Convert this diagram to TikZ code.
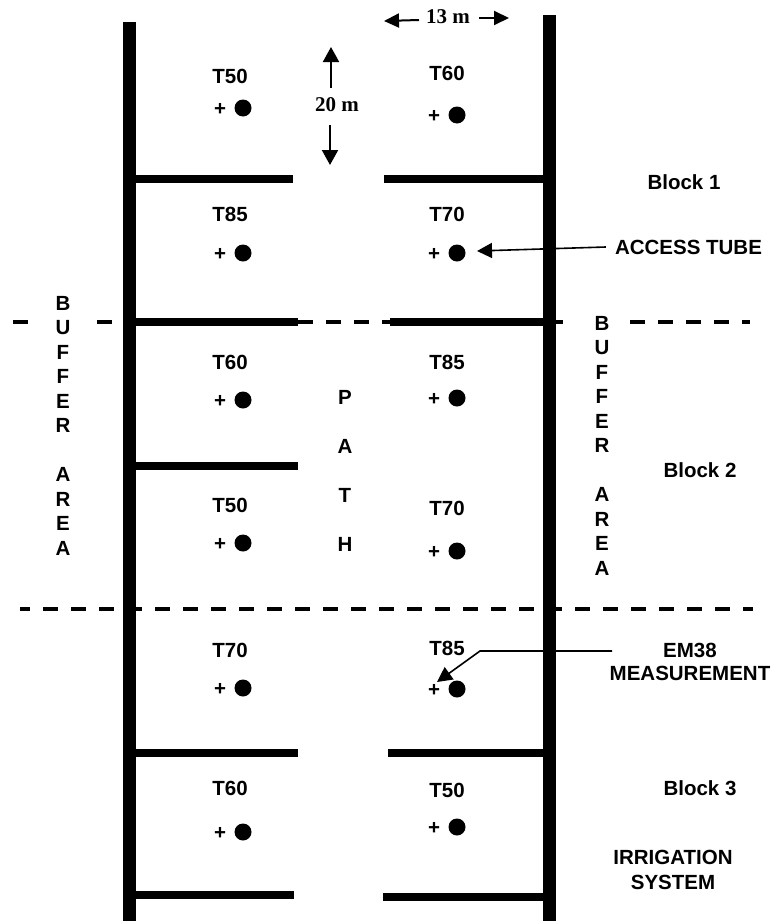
\documentclass[tikz,border=0pt]{standalone}
\usepackage{fontspec}
\setmainfont{Liberation Sans}
\newfontfamily\serifbold{Liberation Serif}
\usetikzlibrary{arrows.meta}
\begin{document}
\begin{tikzpicture}[x=1pt,y=-1pt,
  wall/.style={line width=12.5pt},
  rail/.style={line width=8pt},
  dashline/.style={line width=3.5pt, dash pattern=on 15pt off 13pt},
  lab/.style={font=\bfseries\fontsize{20.5}{23}\selectfont, inner sep=0pt},
  dot/.style={circle, fill=black, minimum size=17pt, inner sep=0pt},
  dim/.style={font=\serifbold\bfseries\fontsize{21}{24}\selectfont, inner sep=0pt},
  dimarrow/.style={line width=2pt, -{Triangle[length=15pt,width=16pt]}},
  callout/.style={line width=1.6pt, -{Triangle[length=15pt,width=15pt]}}
]
\useasboundingbox (0,0) rectangle (779,921);

% dashed block boundaries
\draw[dashline] (13,322) -- (31,322);
\draw[dashline] (97,322) -- (113,322);
\draw[dashline] (298,322) -- (390,322);
\draw[dashline] (549,322) -- (563,322);
\draw[dashline] (630,322) -- (750,322);
\draw[dashline, dash phase=5pt] (20,609) -- (753,609);

% walls
\draw[wall] (129.5,22) -- (129.5,921);
\draw[wall] (549.5,15) -- (549.5,921);

% rails
\draw[rail] (135,179) -- (293,179);
\draw[rail] (384,179) -- (543,179);
\draw[rail] (135,322) -- (298,322);
\draw[rail] (390,322) -- (543,322);
\draw[rail] (135,466) -- (298,466);
\draw[rail] (135,753) -- (298,753);
\draw[rail] (388,753) -- (543,753);
\draw[rail] (135,895) -- (294,895);
\draw[rail] (383,897) -- (543,897);

% plots: left column
\foreach \t/\ly/\dy [count=\i] in {T50/76/108, T85/214/253, T60/362/400, T50/505/543, T70/650/688, T60/788/832}{
  \node[lab] (tl\i) at (230,\ly) {\t};
  \node[lab] (pl\i) at (220,\dy+1) {+};
  \node[dot] (dl\i) at (243,\dy) {};
}
% plots: right column
\foreach \t/\ly/\dy [count=\i] in {T60/73/115, T70/214/253, T85/362/398, T70/508/551, T85/648/689, T50/790/827}{
  \node[lab] (tr\i) at (447,\ly) {\t};
  \node[lab] (pr\i) at (434,\dy+1) {+};
  \node[dot] (dr\i) at (457,\dy) {};
}

% buffer areas
\foreach \l [count=\i] in {B,U,F,F,E,R,{},A,R,E,A}{
  \node[lab] (bl\i) at (63,303+24.5*\i-24.5) {\l};
  \node[lab] (br\i) at (602,323+24.5*\i-24.5) {\l};
}
% path
\foreach \l [count=\i] in {P,A,T,H}{
  \node[lab] (pa\i) at (345,397+49*\i-49) {\l};
}

% blocks
\node[lab] (b1) at (684,182) {Block 1};
\node[lab] (b2) at (700,470) {Block 2};
\node[lab] (b3) at (700,788) {Block 3};

% dimensions
\node[dim] (twenty) at (337,105) {20 m};
\coordinate (upstart) at (331,88);
\coordinate (uptip) at (331,47);
\coordinate (dnstart) at (330,125);
\coordinate (dntip) at (330,165);
\draw[dimarrow] (upstart) -- (uptip);
\draw[dimarrow] (dnstart) -- (dntip);

\node[dim] (thirteen) at (448,17) {13 m};
\coordinate (lstart) at (419,20);
\coordinate (ltip) at (384,21);
\coordinate (rstart) at (479,18);
\coordinate (rtip) at (509,18);
\draw[dimarrow, -{Triangle[length=15pt,width=14pt]}] (lstart) -- (ltip);
\draw[dimarrow, -{Triangle[length=15pt,width=14pt]}] (rstart) -- (rtip);

% callouts
\node[lab] (access) at (688.5,247) {ACCESS TUBE};
\coordinate (acctip) at (477,251);
\draw[callout] ([xshift=-9pt]access.west) -- (acctip);

\node[lab, align=center] (em) at (690,661.5) {EM38\\MEASUREMENT};
\coordinate (emstart) at (612,651);
\coordinate (embend) at (480,651);
\coordinate (emtip) at (437,682);
\draw[callout] (emstart) -- (embend) -- (emtip);

\node[lab, align=center, font=\bfseries\fontsize{20.5}{25}\selectfont] (irr) at (673,869.5) {IRRIGATION\\SYSTEM};
\end{tikzpicture}
\end{document}
